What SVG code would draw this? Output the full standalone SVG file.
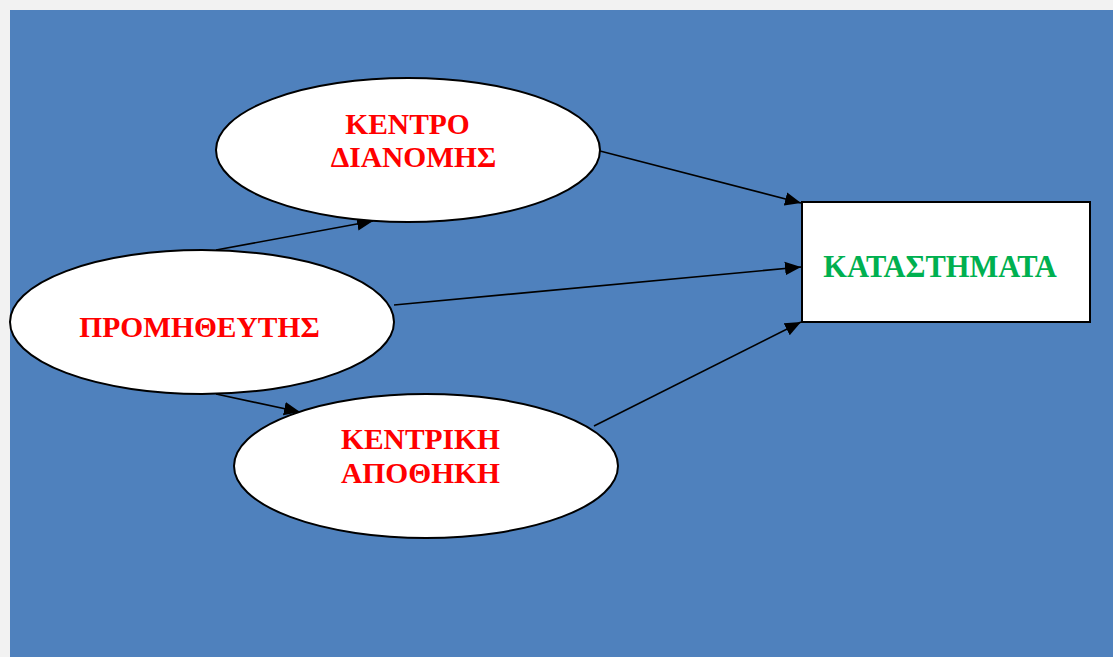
<svg xmlns="http://www.w3.org/2000/svg" width="1113" height="657" viewBox="0 0 1113 657">
<defs>
<style>
.node{fill:#ffffff;stroke:#000000;stroke-width:2}
.lbl{font-family:"Liberation Serif","Times New Roman",serif;font-weight:bold;font-size:29.5px;text-anchor:middle}
.red{fill:#ff0000}
.green{fill:#00b050;font-size:30.5px}
.edge{stroke:#000000;stroke-width:1.6;fill:none;marker-end:url(#arr)}
</style>
<marker id="arr" viewBox="0 0 10 10" refX="10" refY="5" markerWidth="16" markerHeight="16" markerUnits="userSpaceOnUse" orient="auto">
<path d="M0,0.8 L10,5 L0,9.2 z" fill="#000000"/>
</marker>
</defs>
<rect x="0" y="0" width="1113" height="657" fill="#f2f2f2"/>
<rect x="10" y="10" width="1103" height="647" fill="#4f81bd"/>
<g id="connectors">
<line class="edge" x1="216" y1="250" x2="373" y2="221"/>
<line class="edge" x1="600" y1="151" x2="801" y2="203"/>
<line class="edge" x1="394" y1="305" x2="801" y2="267"/>
<line class="edge" x1="216" y1="394" x2="300" y2="412"/>
<line class="edge" x1="594" y1="426" x2="801" y2="322"/>
</g>
<g id="kentro">
<ellipse class="node" cx="408" cy="150" rx="192" ry="72"/>
<text class="lbl red" x="407.5" y="134">ΚΕΝΤΡΟ</text>
<text class="lbl red" x="413.5" y="167">ΔΙΑΝΟΜΗΣ</text>
</g>
<g id="promitheftis">
<ellipse class="node" cx="202" cy="322" rx="192" ry="72"/>
<text class="lbl red" x="199.5" y="337">ΠΡΟΜΗΘΕΥΤΗΣ</text>
</g>
<g id="apothiki">
<ellipse class="node" cx="426" cy="466" rx="192" ry="72"/>
<text class="lbl red" x="420.5" y="449">ΚΕΝΤΡΙΚΗ</text>
<text class="lbl red" x="420.5" y="483">ΑΠΟΘΗΚΗ</text>
</g>
<g id="katastimata">
<rect class="node" x="802" y="202" width="288" height="120"/>
<text class="lbl green" x="940" y="277">ΚΑΤΑΣΤΗΜΑΤΑ</text>
</g>
</svg>
